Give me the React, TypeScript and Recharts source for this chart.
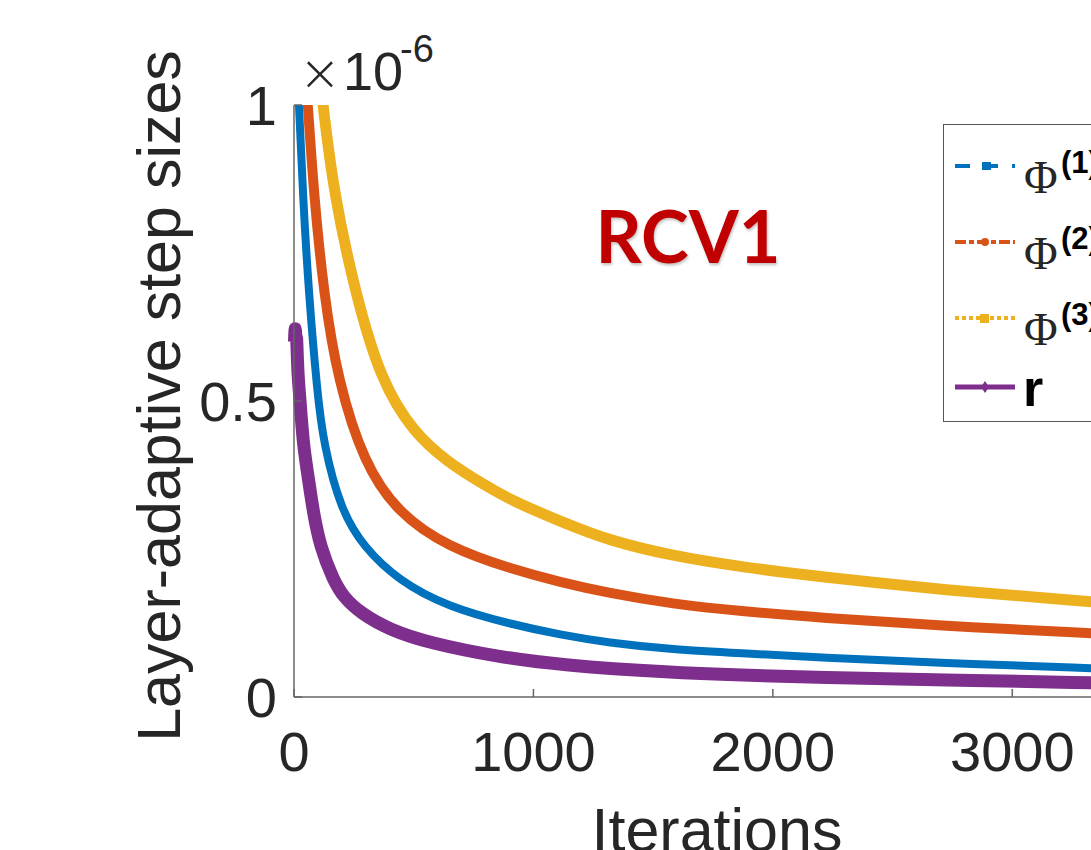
import { Label, Legend, Line, LineChart, XAxis, YAxis } from "recharts"

// iterations / step sizes (×1e-6)
const phi1Iter = [15, 21, 37, 62, 97, 123, 196, 292, 433, 642, 917, 1112, 1308, 1583, 1862, 2196, 2708, 3325, 3500]
const phi1Val = [1.05, 1.0, 0.848, 0.679, 0.515, 0.428, 0.315, 0.253, 0.198, 0.152, 0.122, 0.105, 0.092, 0.08, 0.074, 0.067, 0.057, 0.049, 0.046]

const phi2Iter = [50, 58, 83, 125, 183, 292, 433, 642, 917, 1112, 1308, 1583, 1862, 2196, 2708, 3325, 3500]
const phi2Val = [1.04, 1.0, 0.848, 0.679, 0.535, 0.395, 0.311, 0.253, 0.215, 0.194, 0.176, 0.157, 0.145, 0.134, 0.12, 0.108, 0.104]

const phi3Iter = [110, 121, 167, 258, 362, 500, 642, 779, 917, 1112, 1308, 1583, 1862, 2196, 2708, 3325, 3500]
const phi3Val = [1.04, 1.0, 0.848, 0.679, 0.535, 0.446, 0.397, 0.362, 0.33, 0.297, 0.265, 0.238, 0.22, 0.203, 0.181, 0.161, 0.155]

const rIter = [2, 5, 8, 11, 14, 18, 29, 40, 61, 81, 110, 164, 206, 277, 402, 569, 849, 1112, 1583, 1862, 2196, 2708, 3325, 3500]
const rVal = [0.6, 0.633, 0.6, 0.615, 0.57, 0.535, 0.48, 0.422, 0.367, 0.311, 0.253, 0.198, 0.169, 0.142, 0.113, 0.091, 0.068, 0.054, 0.041, 0.037, 0.033, 0.029, 0.024, 0.023]

const xTicks = [0, 1000, 2000, 3000]
const yTicks = [0, 0.5, 1]

const toPoints = (xs: number[], ys: number[]) => xs.map((x, i) => ({ x, y: ys[i] }))

const BLUE = "#0072BD"
const ORANGE = "#D95319"
const YELLOW = "#EDB120"
const PURPLE = "#7E2F8E"
const TEXT = "#262626"
const SANS = "'Liberation Sans', Arial, sans-serif"

function LegendBox() {
  const rows = [41, 117, 193, 262]
  return (
    <div style={{ border: "1.5px solid #555", background: "#fff", width: 180, height: 296 }}>
      <svg width={180} height={296} style={{ display: "block" }}>
        {/* Φ(1) dash-dot */}
        <line x1={11} x2={71} y1={rows[0]} y2={rows[0]} stroke={BLUE} strokeWidth={4} strokeDasharray="15 12 16 14 3" />
        <rect x={38} y={rows[0] - 4} width={9} height={8} fill={BLUE} />
        {/* Φ(2) dash-dot, round marker */}
        <line x1={11} x2={71} y1={rows[1]} y2={rows[1]} stroke={ORANGE} strokeWidth={4} strokeDasharray="11 3 5 3" />
        <circle cx={41} cy={rows[1]} r={4} fill={ORANGE} />
        {/* Φ(3) dotted, square marker */}
        <line x1={11} x2={71} y1={rows[2]} y2={rows[2]} stroke={YELLOW} strokeWidth={4} strokeDasharray="4 3" />
        <rect x={36} y={rows[2] - 4} width={9} height={9} fill={YELLOW} />
        {/* r solid */}
        <line x1={11} x2={71} y1={rows[3]} y2={rows[3]} stroke={PURPLE} strokeWidth={5} />
        <path d={`M41 ${rows[3] - 6} L45 ${rows[3]} L41 ${rows[3] + 6} L37 ${rows[3]} Z`} fill={PURPLE} />

        {[1, 2, 3].map((k, i) => (
          <g key={k}>
            <text x={80} y={rows[i] + 27} fontFamily="'Liberation Serif', 'Times New Roman', serif" fontSize={46} fill={TEXT}>
              Φ
            </text>
            <text x={117} y={rows[i] + 7} fontFamily={SANS} fontWeight="bold" fontSize={31} fill="#000">
              ({k})
            </text>
          </g>
        ))}
        <text x={79} y={rows[3] + 19} fontFamily={SANS} fontWeight="bold" fontSize={52} fill="#000">
          r
        </text>
      </svg>
    </div>
  )
}

export default function App() {
  return (
    <div
      style={{
        position: "absolute",
        left: 0,
        top: 0,
        width: 1091,
        height: 850,
        overflow: "hidden",
        background: "#fff",
        fontFamily: SANS,
      }}
    >
      <LineChart width={1160} height={850} margin={{ top: 105, right: 28, bottom: 93, left: 0 }}>
        <XAxis
          dataKey="x"
          type="number"
          domain={[0, 3500]}
          ticks={xTicks}
          interval={0}
          height={60}
          tickSize={-8}
          tickMargin={42}
          stroke="#666"
          strokeWidth={1.5}
          tick={{ fontSize: 56, fill: TEXT, fontFamily: SANS }}
        >
          <Label
            content={() => (
              <text x={717} y={851} textAnchor="middle" fontSize={61} fill={TEXT} fontFamily={SANS}>
                Iterations
              </text>
            )}
          />
        </XAxis>
        <YAxis
          type="number"
          domain={[0, 1]}
          allowDataOverflow
          ticks={yTicks}
          interval={0}
          width={294}
          tickSize={-8}
          tickMargin={25}
          stroke="#666"
          strokeWidth={1.5}
          tick={{ fontSize: 56, fill: TEXT, fontFamily: SANS }}
        >
          <Label
            content={() => (
              <text
                x={180}
                y={396}
                transform="rotate(-90 180 396)"
                textAnchor="middle"
                fontSize={61}
                fill={TEXT}
                fontFamily={SANS}
              >
                Layer-adaptive step sizes
              </text>
            )}
          />
        </YAxis>
        <Legend
          layout="vertical"
          align="center"
          verticalAlign="middle"
          wrapperStyle={{ left: 943, top: 124, width: 182 }}
          content={() => <LegendBox />}
        />
        <Line data={toPoints(phi1Iter, phi1Val)} dataKey="y" name="Φ(1)" type="basis" stroke={BLUE} strokeWidth={8} dot={false} activeDot={false} isAnimationActive={false} />
        <Line data={toPoints(phi2Iter, phi2Val)} dataKey="y" name="Φ(2)" type="basis" stroke={ORANGE} strokeWidth={10} dot={false} activeDot={false} isAnimationActive={false} />
        <Line data={toPoints(phi3Iter, phi3Val)} dataKey="y" name="Φ(3)" type="basis" stroke={YELLOW} strokeWidth={11} dot={false} activeDot={false} isAnimationActive={false} />
        <Line data={toPoints(rIter, rVal)} dataKey="y" name="r" type="basis" stroke={PURPLE} strokeWidth={13} dot={false} activeDot={false} isAnimationActive={false} />
      </LineChart>

      {/* exponent + dataset title */}
      <svg width={1091} height={850} style={{ position: "absolute", left: 0, top: 0, pointerEvents: "none" }}>
        <text x={299} y={90} fontSize={50} fill={TEXT} fontFamily="'DejaVu Sans', sans-serif" fontWeight={300}>
          ×
        </text>
        <text x={343} y={90} fontSize={54} fill={TEXT} fontFamily={SANS}>
          10
        </text>
        <text x={400} y={62} fontSize={38} fill={TEXT} fontFamily={SANS}>
          -6
        </text>
        <text
          x={688}
          y={263}
          textAnchor="middle"
          fontSize={72}
          fontWeight="bold"
          fill="#C00000"
          fontFamily="Lato, 'Open Sans', sans-serif"
          style={{ textShadow: "1px 2px 3px rgba(0,0,0,0.25)" }}
        >
          RCV1
        </text>
      </svg>
    </div>
  )
}
